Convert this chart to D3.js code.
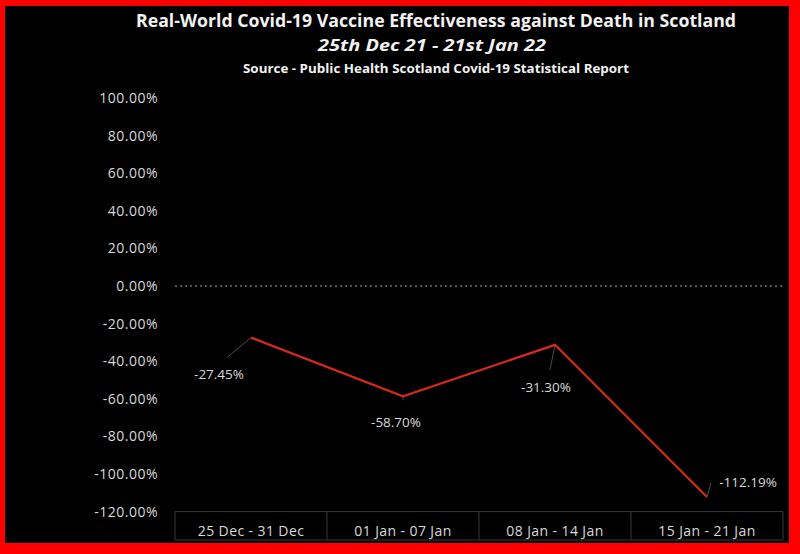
<!DOCTYPE html>
<html>
<head>
<meta charset="utf-8">
<script src="https://cdn.jsdelivr.net/npm/d3@7"></script>
<style>
  html, body { margin: 0; padding: 0; background: #ff0000; }
  text { font-family: "Open Sans", "DejaVu Sans", sans-serif; }
</style>
</head>
<body>
<div id="chart"></div>
<script>
// chart values
var categories = ["25 Dec - 31 Dec", "01 Jan - 07 Jan", "08 Jan - 14 Jan", "15 Jan - 21 Jan"];
var effectiveness = [-27.45, -58.70, -31.30, -112.19];
var yTicks = [100, 80, 60, 40, 20, 0, -20, -40, -60, -80, -100, -120];
var titleLines = [
    "Real-World Covid-19 Vaccine Effectiveness against Death in Scotland",
    "25th Dec 21 - 21st Jan 22",
    "Source - Public Health Scotland Covid-19 Statistical Report"
];

// where each data label sits relative to its point
var labelOffsets = [[-32, 37], [-7, 26], [-9, 42], [41, -15]];
var leaderEnds = [[-24, 20], [0, 4], [-5, 25], [4, -14]];

var W = 800, H = 554;

var svg = d3.select("#chart").append("svg")
    .attr("width", W)
    .attr("height", H);

// red frame and black panel
svg.append("rect").attr("x", 0).attr("y", 0).attr("width", W).attr("height", H).attr("fill", "#ff0000");
svg.append("rect").attr("x", 5).attr("y", 6).attr("width", 784).attr("height", 537).attr("fill", "#000");

var x = d3.scaleBand()
    .domain(categories)
    .range([175, 783])
    .padding(0);

var y = d3.scaleLinear()
    .domain([-120, 100])
    .range([511.6, 98]);

// titles
var titleX = 436;
svg.append("text")
    .attr("x", titleX).attr("y", 27)
    .attr("text-anchor", "middle")
    .attr("font-size", 17).attr("font-weight", "bold")
    .attr("fill", "#f2f2f2")
    .attr("textLength", 600).attr("lengthAdjust", "spacingAndGlyphs")
    .text(titleLines[0]);

svg.append("text")
    .attr("x", titleX - 4).attr("y", 51)
    .attr("text-anchor", "middle")
    .attr("font-size", 16).attr("font-weight", "bold").attr("font-style", "italic")
    .attr("fill", "#f2f2f2")
    .attr("textLength", 228).attr("lengthAdjust", "spacingAndGlyphs")
    .text(titleLines[1]);

svg.append("text")
    .attr("x", titleX).attr("y", 73)
    .attr("text-anchor", "middle")
    .attr("font-size", 12).attr("font-weight", "bold")
    .attr("fill", "#f2f2f2")
    .attr("textLength", 386).attr("lengthAdjust", "spacingAndGlyphs")
    .text(titleLines[2]);

// y axis labels
var yAxis = d3.axisLeft(y)
    .tickValues(yTicks)
    .tickSize(0)
    .tickPadding(0)
    .tickFormat(function(d){ return d.toFixed(2) + "%"; });

var gy = svg.append("g")
    .attr("transform", "translate(158,0)")
    .call(yAxis);
gy.select(".domain").remove();
gy.selectAll("text")
    .attr("font-size", 14)
    .attr("letter-spacing", "0.5px")
    .attr("fill", "#d9d9d9")
    .attr("font-family", "'Open Sans', sans-serif");

// zero line
svg.append("line")
    .attr("x1", x.range()[0]).attr("x2", x.range()[1])
    .attr("y1", y(0)).attr("y2", y(0))
    .attr("stroke", "#a6a6a6")
    .attr("stroke-width", 1)
    .attr("stroke-dasharray", "2,3");

// category table at the bottom
var tableTop = y(-120), tableBottom = 540;
var grid = "#3a3a3a";
svg.append("line")
    .attr("x1", x.range()[0]).attr("x2", x.range()[1])
    .attr("y1", tableTop).attr("y2", tableTop)
    .attr("stroke", grid);
svg.append("line")
    .attr("x1", x.range()[0]).attr("x2", x.range()[1])
    .attr("y1", tableBottom).attr("y2", tableBottom)
    .attr("stroke", grid);

var edges = categories.map(function(c){ return x(c); }).concat([x.range()[1]]);
svg.selectAll(".cell-edge")
    .data(edges)
  .enter().append("line")
    .attr("class", "cell-edge")
    .attr("x1", function(d){ return d; })
    .attr("x2", function(d){ return d; })
    .attr("y1", tableTop)
    .attr("y2", tableBottom)
    .attr("stroke", grid);

var xAxis = d3.axisBottom(x).tickSize(0).tickPadding(0);
var gx = svg.append("g")
    .attr("transform", "translate(0," + tableTop + ")")
    .call(xAxis);
gx.select(".domain").remove();
gx.selectAll("text")
    .attr("y", 14)
    .attr("font-size", 14)
    .attr("letter-spacing", "0.4px")
    .attr("fill", "#d9d9d9")
    .attr("font-family", "'Open Sans', sans-serif");

// the line
var points = categories.map(function(c, i){
    return { cat: c, value: effectiveness[i], i: i };
});

var line = d3.line()
    .x(function(d){ return x(d.cat) + x.bandwidth() / 2; })
    .y(function(d){ return y(d.value); });

// leader lines
svg.selectAll(".leader")
    .data(points)
  .enter().append("line")
    .attr("class", "leader")
    .attr("x1", function(d){ return x(d.cat) + x.bandwidth() / 2; })
    .attr("y1", function(d){ return y(d.value); })
    .attr("x2", function(d){ return x(d.cat) + x.bandwidth() / 2 + leaderEnds[d.i][0]; })
    .attr("y2", function(d){ return y(d.value) + leaderEnds[d.i][1]; })
    .attr("stroke", "#4d4d4d")
    .attr("stroke-width", 1);

svg.append("path")
    .datum(points)
    .attr("d", line)
    .attr("fill", "none")
    .attr("stroke", "#d42a1e")
    .attr("stroke-width", 2.2);

// data labels
svg.selectAll(".value")
    .data(points)
  .enter().append("text")
    .attr("class", "value")
    .attr("x", function(d){ return x(d.cat) + x.bandwidth() / 2 + labelOffsets[d.i][0]; })
    .attr("y", function(d){ return y(d.value) + labelOffsets[d.i][1]; })
    .attr("dy", "0.35em")
    .attr("text-anchor", "middle")
    .attr("font-size", 13.5)
    .attr("fill", "#d9d9d9")
    .text(function(d){ return d.value.toFixed(2) + "%"; });
</script>
</body>
</html>
